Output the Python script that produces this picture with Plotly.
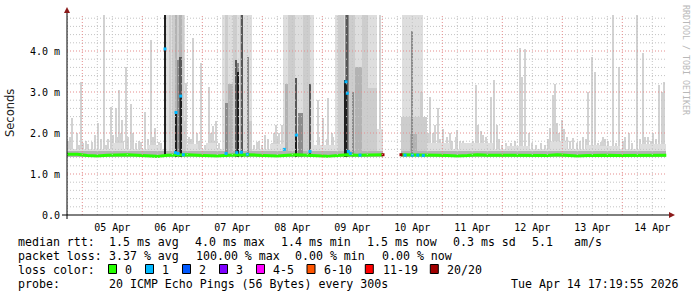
import pandas as pd
import plotly.graph_objects as go

# ---------------- data (times in hours relative to 2026-04-05 00:00, values in ms) -------------
T0 = pd.Timestamp("2026-04-05 00:00")
RANGE_H = [-6.12, 233.88]
Y_TOP = 4.878
SMOKE_BASE = 1.42

y_tick_vals = [0, 1, 2, 3, 4]
y_tick_text = ["0.0", "1.0 m", "2.0 m", "3.0 m", "4.0 m"]

# isolated light ping spikes
spike_h = [-4.0, -2.24, -0.52, 0.4, 2.4, 3.76, 6.4, 8.8, 10.4, 11.48, 13.36, 14.16, 14.68, 15.76,
           17.36, 19.36, 20.4, 23.48, 25.08, 27.48, 29.08, 30.8,
           41.36, 44.4, 45.76, 47.68, 50.8, 52.4, 53.48,
           69.76, 73.08, 75.76, 77.48, 78.68, 79.76,
           94.4, 96.4, 98.4, 99.76,
           119.08,
           139.08, 140.28, 142.4, 144.4, 145.88, 147.08, 149.88, 152.28, 153.88,
           157.48, 158.4, 159.36, 160.4, 163.36, 164.68, 165.76, 169.48, 175.08, 175.76, 177.08, 178.68,
           187.08, 188.16, 189.08, 190.0, 191.76, 193.76, 196.4, 200.4, 202.4, 203.76, 205.08, 207.48, 209.08,
           212.16, 214.8, 217.08, 218.68, 221.76, 224.16, 226.28, 228.28, 230.8, 231.76, 232.68,
           # smaller spikes
           -5.72, -4.92, -1.32, 1.48, 5.08, 7.48, 9.48, 12.28, 15.28, 16.28, 18.28, 21.48, 22.68, 26.28,
           28.28, 29.88, 31.48,
           42.68, 43.48, 46.68, 49.08, 51.48, 53.08, 54.68,
           68.68, 70.68, 71.88, 74.28, 76.68, 78.08, 79.88,
           94.78, 96.28, 97.88, 100.28,
           138.28, 141.08, 143.08, 147.88, 149.48, 151.08, 155.08,
           156.28, 159.68, 161.48, 166.68, 167.88, 171.48, 173.08, 179.88, 181.48, 183.48, 185.08,
           186.28, 190.68, 192.68, 195.08, 197.88, 199.08, 201.48, 206.28, 208.28, 210.28, 213.48,
           216.28, 219.88, 223.08, 225.08, 227.48, 229.48, 232.28]
spike_top = [2.36, 2.01, 3.25, 1.75, 1.74, 1.77, 2.25, 4.88, 1.85, 2.64, 2.6, 1.91, 3.05, 2.32,
             3.62, 2.71, 1.99, 1.77, 2.52, 4.28, 2.11, 1.77,
             3.21, 4.31, 2.0, 3.7, 3.13, 2.16, 2.3,
             1.78, 1.95, 1.75, 2.2, 2.0, 2.2,
             2.8, 2.36, 2.85, 2.0,
             4.88,
             2.87, 2.0, 2.6, 2.1, 1.9, 1.99, 2.07, 1.8, 1.75,
             3.16, 2.2, 2.0, 1.95, 2.87, 3.29, 2.2, 1.75, 4.07, 3.37, 4.05, 1.99,
             2.11, 2.93, 3.2, 2.24, 2.32, 1.91, 1.87, 1.9, 3.01, 3.86, 3.48, 1.79, 1.85,
             4.88, 3.6, 1.9, 2.0, 4.88, 3.94, 1.9, 2.0, 3.17, 3.0, 3.24,
             1.8, 1.9, 1.7, 1.8, 1.95, 1.85, 1.7, 1.95, 2.0, 1.8, 1.9, 1.75, 1.8, 1.85,
             1.9, 1.7, 1.75,
             1.9, 1.85, 1.8, 1.7, 2.0, 1.8, 1.75,
             1.7, 1.8, 1.7, 1.85, 2.0, 1.9, 1.8,
             1.9, 2.1, 1.85, 1.9,
             2.0, 2.2, 1.85, 1.8, 1.9, 1.8, 1.75,
             1.8, 2.05, 1.9, 1.85, 1.7, 1.75, 1.8, 1.75, 1.7, 1.75, 1.7,
             1.85, 2.0, 2.1, 1.8, 1.75, 1.8, 1.85, 1.75, 1.9, 1.8, 1.75,
             1.8, 1.75, 1.85, 1.9, 1.8, 1.85, 1.9]

# smoke band around the median (start h, end h, top ms, shade)
band_start = [-6.12, 127.48, -6.12, 127.48]
band_end = [120.28, 233.6, 120.28, 233.6]
band_top = [1.62, 1.62, 1.55, 1.55]
band_shade = [0, 0, 2, 2]

# low smoke masses in quiet periods
mass_start = [11.92, 25.88, 41.48, 49.48, 75.08, 92.68, 137.48, 151.08, 169.08, 187.08, 201.48, 207.08, 223.08]
mass_end = [16.32, 31.08, 46.28, 53.48, 80.28, 101.08, 147.08, 164.28, 179.08, 193.88, 207.08, 215.08, 233.48]
mass_top = [1.75, 1.7, 1.72, 1.75, 1.72, 1.7, 1.75, 1.75, 1.68, 1.8, 1.7, 1.68, 1.72]

# heavy smoke (lossy periods)
heavy_start = [32.48, 34.68, 36.0, 37.08, 37.88, 37.88, 38.8, 38.8, 39.76, 32.8, 37.2, 39.0, 40.56,
               55.76, 57.08, 57.08, 58.4, 60.4, 60.88, 61.76, 62.08, 63.08, 63.76, 65.76, 66.8,
               80.4, 81.08, 82.4, 85.08, 85.2, 86.28, 88.28, 90.88,
               101.08, 117.76, 102.28, 105.08, 104.8, 105.76, 106.68, 107.88, 109.08, 111.76, 114.4,
               128.0, 127.48, 131.48, 131.08, 135.08]
heavy_end = [41.08, 35.48, 37.08, 37.88, 38.8, 38.8, 39.76, 39.76, 40.56, 33.6, 37.8, 39.8, 41.48,
             67.76, 58.4, 58.4, 60.4, 62.0, 61.76, 62.8, 62.48, 64.4, 64.28, 66.8, 67.76,
             92.68, 82.4, 85.08, 86.0, 85.88, 88.28, 91.08, 91.48,
             117.76, 120.28, 104.68, 106.68, 105.76, 106.4, 109.08, 108.68, 111.76, 114.4, 117.76,
             136.4, 137.76, 132.08, 133.76, 136.4]
heavy_top = [4.88, 4.88, 4.88, 4.88, 4.88, 3.78, 4.88, 3.86, 4.88, 4.88, 2.52, 2.93, 2.3,
             4.88, 4.88, 2.72, 3.2, 4.88, 3.78, 3.7, 3.5, 4.88, 4.88, 3.86, 2.3,
             4.88, 3.2, 4.88, 3.33, 1.95, 2.5, 4.88, 3.2,
             4.88, 2.1, 4.88, 4.88, 3.29, 4.88, 4.88, 3.0, 3.6, 4.88, 3.1,
             4.88, 2.4, 4.5, 1.97, 3.0]
heavy_shade = [0, 1, 1, 2, 1, 3, 2, 4, 1, 5, 5, 5, 1,
               0, 1, 3, 2, 1, 4, 3, 5, 2, 4, 3, 1,
               0, 2, 1, 4, 5, 3, 1, 4,
               0, 0, 1, 3, 5, 4, 1, 3, 2, 1, 1,
               0, 1, 3, 2, 1]

# median rtt
median_h = [-6.12, -2, 2, 6, 10, 14, 18, 22, 26, 30, 34, 38, 42, 46, 50, 54, 58, 62, 66, 70, 74, 78,
            82, 86, 90, 94, 98, 102, 106, 110, 114, 118, 120.28, 124, 127.48, 130, 134, 138, 142, 146,
            150, 154, 158, 162, 166, 170, 174, 178, 182, 186, 190, 194, 198, 202, 206, 210, 214, 218,
            222, 226, 230, 233.6]
median_v = [1.48, 1.48, 1.45, 1.44, 1.46, 1.47, 1.47, 1.46, 1.44, 1.43, 1.46, 1.47, 1.47, 1.46, 1.45,
            1.44, 1.46, 1.47, 1.47, 1.46, 1.45, 1.44, 1.46, 1.47, 1.46, 1.44, 1.43, 1.45, 1.47, 1.46,
            1.47, 1.47, 1.47, None, 1.47, 1.47, 1.46, 1.47, 1.46, 1.45, 1.44, 1.45, 1.47, 1.46, 1.46,
            1.45, 1.45, 1.46, 1.46, 1.45, 1.47, 1.46, 1.44, 1.45, 1.46, 1.46, 1.45, 1.45, 1.46, 1.45,
            1.46, 1.46]

# median points with packet loss
loss_h = [33.08, 37.48, 39.36, 37.28, 38.28, 40.4, 57.5, 61.8, 63.6, 66.0, 80.8, 85.6, 91.08,
          105.48, 106.0, 106.4, 107.2, 111.08, 120.28, 127.48, 129.1, 132.0, 134.2, 136.4]
loss_v = [4.05, 2.5, 2.9, 1.52, 1.5, 1.47, 1.5, 1.52, 1.53, 1.48, 1.6, 1.95, 1.55,
          3.25, 2.97, 1.55, 1.5, 1.46, 1.47, 1.47, 1.46, 1.46, 1.46, 1.45]
loss_n = ["1", "1", "1", "1", "1", "1", "1", "1", "1", "1", "1", "1", "1",
          "1", "1", "1", "1", "1", "20/20", "20/20", "1", "1", "1", "1"]

loss_labels = ["0", "1", "2", "3", "4-5", "6-10", "11-19", "20/20"]
loss_colors = ["#26ff00", "#00b8ff", "#0059ff", "#7e00ff", "#ff00ff", "#ff5500", "#ff0000", "#a10000"]

legend_rtt = ["median rtt:", "1.5 ms avg", "4.0 ms max", "1.4 ms min", "1.5 ms now", "0.3 ms sd", "5.1", "am/s"]
legend_loss = ["packet loss:", "3.37 % avg", "100.00 % max", "0.00 % min", "0.00 % now"]
probe_text = ["probe:", "20 ICMP Echo Pings (56 Bytes) every 300s"]
stamp_text = "Tue Apr 14 17:19:55 2026"

# ---------------- figure ----------------
assert len(spike_h) == len(spike_top)
assert len(heavy_start) == len(heavy_end) == len(heavy_top) == len(heavy_shade)
assert len(median_h) == len(median_v)


def tt(h):
    return T0 + pd.Timedelta(hours=float(h))


shade_colors = ["#dedede", "#cdcdcd", "#b3b3b3", "#8c8c8c", "#575757", "#1e1e1e"]
H_MS = 3600000.0

fig = go.Figure()

fig.add_trace(go.Bar(
    x=[tt(h) for h in spike_h], y=[t - SMOKE_BASE for t in spike_top], base=SMOKE_BASE,
    width=[0.42 * H_MS] * len(spike_h), marker=dict(color="#d2d2d2", line=dict(width=0)),
    hoverinfo="skip", showlegend=False))

blocks = []
for s, e, t, c in zip(band_start, band_end, band_top, band_shade):
    blocks.append((s, e, t, c))
for s, e, t in zip(mass_start, mass_end, mass_top):
    blocks.append((s, e, t, 0))
for s, e, t, c in zip(heavy_start, heavy_end, heavy_top, heavy_shade):
    blocks.append((s, e, t, c))

for shade in range(len(shade_colors)):
    sel = [b for b in blocks if b[3] == shade]
    if not sel:
        continue
    fig.add_trace(go.Bar(
        x=[tt((b[0] + b[1]) / 2) for b in sel],
        y=[min(b[2], Y_TOP) - SMOKE_BASE for b in sel], base=SMOKE_BASE,
        width=[(b[1] - b[0]) * H_MS for b in sel],
        marker=dict(color=shade_colors[shade], line=dict(width=0)),
        hoverinfo="skip", showlegend=False))

fig.add_trace(go.Scatter(
    x=[tt(h) for h in median_h], y=median_v, mode="lines", connectgaps=False,
    line=dict(color=loss_colors[0], width=3), hoverinfo="skip", showlegend=False))

cmap = dict(zip(loss_labels, loss_colors))
fig.add_trace(go.Scatter(
    x=[tt(h) for h in loss_h], y=loss_v, mode="markers",
    marker=dict(symbol="square", size=3, color=[cmap[n] for n in loss_n], line=dict(width=0)),
    hoverinfo="skip", showlegend=False))

# ---------------- layout ----------------
W, H = 697, 297
PL, PR, PT, PB = 67, 667, 15, 215


def px(x):
    return (x - PL) / (PR - PL)


def py(y):
    return (PB - y) / (PB - PT)


shapes = []
RED = "#e58d8d"
GRAY = "#c4c4c4"
for i in range(1, 25):
    v = i * 0.2
    major = (i % 5 == 0)
    shapes.append(dict(type="line", xref="paper", yref="y", x0=0, x1=1, y0=v, y1=v, layer="above",
                       line=dict(color=RED if major else GRAY, width=1, dash="1px,2px")))
h = -6.0
while h < RANGE_H[1]:
    if h > RANGE_H[0]:
        major = abs(h / 24 - round(h / 24)) < 1e-9
        shapes.append(dict(type="line", xref="x", yref="paper", x0=tt(h), x1=tt(h), y0=0, y1=1,
                           layer="above",
                           line=dict(color=RED if major else GRAY, width=1, dash="1px,2px")))
    h += 6
shapes.append(dict(type="line", xref="paper", yref="paper", x0=px(62), x1=px(672), y0=0, y1=0,
                   line=dict(color="black", width=1), layer="above"))
shapes.append(dict(type="line", xref="paper", yref="paper", x0=0, x1=0, y0=py(219), y1=py(10),
                   line=dict(color="black", width=1), layer="above"))
shapes.append(dict(type="path", xref="paper", yref="paper", layer="above",
                   path=f"M {px(669)} {py(212)} L {px(675)} {py(215)} L {px(669)} {py(218)} Z",
                   fillcolor="#8b1a1a", line=dict(width=0)))
shapes.append(dict(type="path", xref="paper", yref="paper", layer="above",
                   path=f"M {px(64)} {py(13)} L {px(67)} {py(7)} L {px(70)} {py(13)} Z",
                   fillcolor="#8b1a1a", line=dict(width=0)))

annotations = []
MONO = "DejaVu Sans Mono"
LF = 11.6


def txt(s, x, y, anchor="left", size=LF, color="black", family=MONO, angle=0):
    annotations.append(dict(text=s, xref="paper", yref="paper", x=px(x), y=py(y), xanchor=anchor,
                            yanchor="middle", showarrow=False, textangle=angle,
                            font=dict(family=family, size=size, color=color)))


for s, x in zip(legend_rtt, [16, 107, 193, 279, 365, 451, 530, 572]):
    txt(s, x, 241.5)
for s, x in zip(legend_loss, [16, 107, 194, 293, 380]):
    txt(s, x, 255.5)
txt("loss color:", 16, 269.5)
box_x = [108.5, 145.5, 182.5, 219.5, 256.5, 307, 365.3, 430.3]
lab_x = [123, 160, 197, 234, 271, 322, 381, 445]
for lab, col, bx, lx in zip(loss_labels, loss_colors, box_x, lab_x):
    shapes.append(dict(type="rect", xref="paper", yref="paper", x0=px(bx), x1=px(bx + 8),
                       y0=py(273.5), y1=py(264.5), fillcolor=col, line=dict(color="black", width=1)))
    txt(lab, lx, 269.5)
txt(probe_text[0], 16, 283.5)
txt(probe_text[1], 107, 283.5)
txt(stamp_text, 681, 283.5, anchor="right")
txt("Seconds", 10, 113, anchor="center", size=11.5, family="DejaVu Sans", color="#222", angle=-90)
txt("RRDTOOL / TOBI OETIKER", 686, 60, anchor="center", size=8.3, color="#b8b8b8", angle=90)

fig.update_layout(
    width=W, height=H, margin=dict(l=PL, r=W - PR, t=PT, b=H - PB),
    paper_bgcolor="white", plot_bgcolor="white", barmode="overlay", bargap=0,
    shapes=shapes, annotations=annotations, showlegend=False,
    xaxis=dict(type="date", range=[tt(RANGE_H[0]), tt(RANGE_H[1])], tick0=T0, dtick=86400000,
               ticklabelmode="period", tickformat="%d %b", showgrid=False, zeroline=False,
               showline=False, ticks="outside", ticklen=3, tickcolor="rgba(0,0,0,0)",
               tickfont=dict(family=MONO, size=10, color="black")),
    yaxis=dict(range=[0, Y_TOP], tickvals=y_tick_vals, ticktext=y_tick_text, showgrid=False,
               zeroline=False, showline=False, ticks="outside", ticklen=4,
               tickcolor="rgba(0,0,0,0)", tickfont=dict(family=MONO, size=10, color="black")),
)

fig.write_html("out.html")
